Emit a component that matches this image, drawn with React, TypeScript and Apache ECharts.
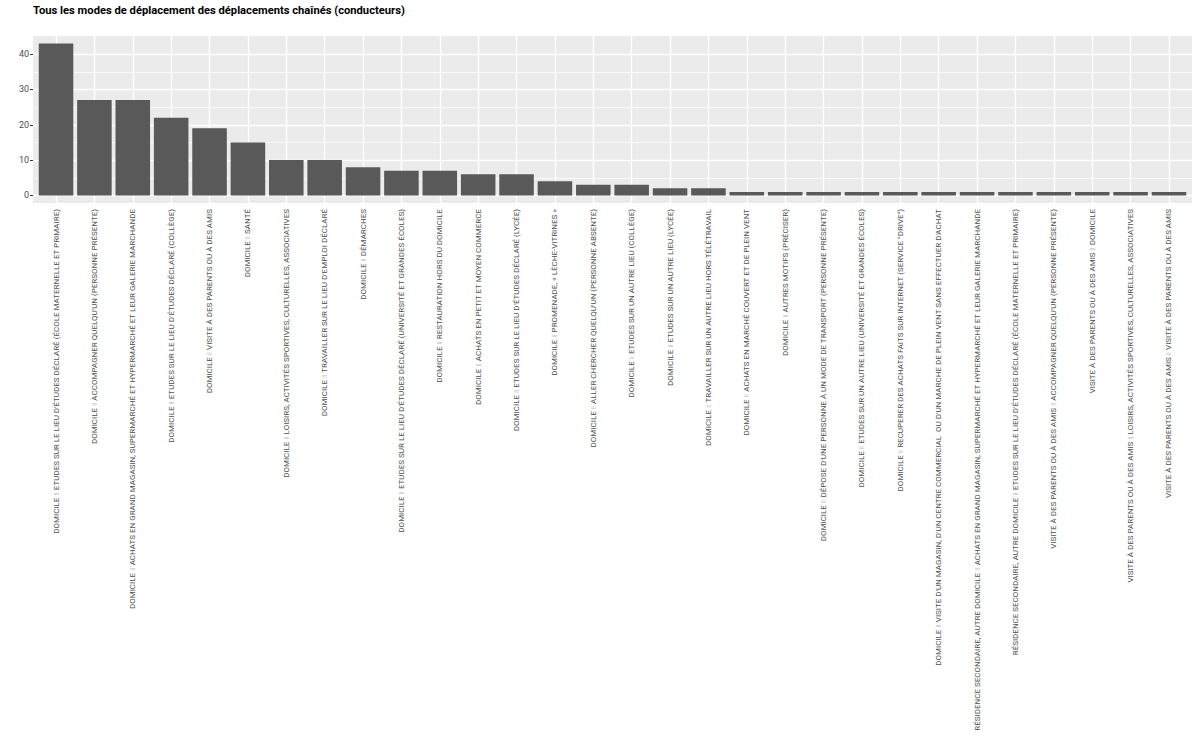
import React, { useEffect, useRef } from "react";
import * as echarts from "echarts";

const TITLE = "Tous les modes de déplacement des déplacements chaînés (conducteurs)";
const SEP = "‖";

const categories = [
  "DOMICILE ‖ ETUDES SUR LE LIEU D'ÉTUDES DÉCLARÉ (ÉCOLE MATERNELLE ET PRIMAIRE)",
  "DOMICILE ‖ ACCOMPAGNER QUELQU'UN (PERSONNE PRÉSENTE)",
  "DOMICILE ‖ ACHATS EN GRAND MAGASIN, SUPERMARCHÉ ET HYPERMARCHÉ ET LEUR GALERIE MARCHANDE",
  "DOMICILE ‖ ETUDES SUR LE LIEU D'ÉTUDES DÉCLARÉ (COLLÈGE)",
  "DOMICILE ‖ VISITE À DES PARENTS OU À DES AMIS",
  "DOMICILE ‖ SANTÉ",
  "DOMICILE ‖ LOISIRS, ACTIVITÉS SPORTIVES, CULTURELLES, ASSOCIATIVES",
  "DOMICILE ‖ TRAVAILLER SUR LE LIEU D'EMPLOI DÉCLARÉ",
  "DOMICILE ‖ DÉMARCHES",
  "DOMICILE ‖ ETUDES SUR LE LIEU D'ÉTUDES DÉCLARÉ (UNIVERSITÉ ET GRANDES ÉCOLES)",
  "DOMICILE ‖ RESTAURATION HORS DU DOMICILE",
  "DOMICILE ‖ ACHATS EN PETIT ET MOYEN COMMERCE",
  "DOMICILE ‖ ETUDES SUR LE LIEU D'ÉTUDES DÉCLARÉ (LYCÉE)",
  "DOMICILE ‖ PROMENADE, « LÈCHE-VITRINES »",
  "DOMICILE ‖ ALLER CHERCHER QUELQU'UN (PERSONNE ABSENTE)",
  "DOMICILE ‖ ETUDES SUR UN AUTRE LIEU (COLLÈGE)",
  "DOMICILE ‖ ETUDES SUR UN AUTRE LIEU (LYCÉE)",
  "DOMICILE ‖ TRAVAILLER SUR UN AUTRE LIEU HORS TÉLÉTRAVAIL",
  "DOMICILE ‖ ACHATS EN MARCHÉ COUVERT ET DE PLEIN VENT",
  "DOMICILE ‖ AUTRES MOTIFS (PRÉCISER)",
  "DOMICILE ‖ DÉPOSE D'UNE PERSONNE À UN MODE DE TRANSPORT (PERSONNE PRÉSENTE)",
  "DOMICILE ‖ ETUDES SUR UN AUTRE LIEU (UNIVERSITÉ ET GRANDES ÉCOLES)",
  "DOMICILE ‖ RECUPERER DES ACHATS FAITS SUR INTERNET (SERVICE \"DRIVE\")",
  "DOMICILE ‖ VISITE D'UN MAGASIN, D'UN CENTRE COMMERCIAL  OU D'UN MARCHE DE PLEIN VENT SANS EFFECTUER D'ACHAT",
  "RÉSIDENCE SECONDAIRE, AUTRE DOMICILE ‖ ACHATS EN GRAND MAGASIN, SUPERMARCHÉ ET HYPERMARCHÉ ET LEUR GALERIE MARCHANDE",
  "RÉSIDENCE SECONDAIRE, AUTRE DOMICILE ‖ ETUDES SUR LE LIEU D'ÉTUDES DÉCLARÉ (ÉCOLE MATERNELLE ET PRIMAIRE)",
  "VISITE À DES PARENTS OU À DES AMIS ‖ ACCOMPAGNER QUELQU'UN (PERSONNE PRÉSENTE)",
  "VISITE À DES PARENTS OU À DES AMIS ‖ DOMICILE",
  "VISITE À DES PARENTS OU À DES AMIS ‖ LOISIRS, ACTIVITÉS SPORTIVES, CULTURELLES, ASSOCIATIVES",
  "VISITE À DES PARENTS OU À DES AMIS ‖ VISITE À DES PARENTS OU À DES AMIS",
];

const counts = [43, 27, 27, 22, 19, 15, 10, 10, 8, 7, 7, 6, 6, 4, 3, 3, 2, 2, 1, 1, 1, 1, 1, 1, 1, 1, 1, 1, 1, 1];

const yMajor = [0, 10, 20, 30, 40];
const yMinor = [5, 15, 25, 35];
const yMin = -2.15;
const yMax = 45.15;

const FONT = "Roboto, 'Liberation Sans', Arial, sans-serif";

export default function App() {
  const ref = useRef<HTMLDivElement>(null);

  useEffect(() => {
    document.body.style.margin = "0";
    if (!ref.current) return;
    const chart = echarts.init(ref.current, undefined, { renderer: "svg" });

    const panel = { left: 33, top: 36, width: 1159, height: 167 };
    const unit = panel.width / (categories.length - 1 + 1.2);
    const inner = {
      left: panel.left + 0.1 * unit,
      top: panel.top,
      width: unit * categories.length,
      height: panel.height,
    };

    const option: any = {
      animation: false,
      backgroundColor: "#FFFFFF",
      textStyle: { fontFamily: FONT },
      title: {
        text: TITLE,
        left: 33,
        top: 5,
        padding: 0,
        textStyle: { fontFamily: FONT, fontSize: 11.2, fontWeight: "bold", color: "#000000" },
      },
      grid: [
        { ...panel, show: true, backgroundColor: "#EBEBEB", borderWidth: 0, containLabel: false, z: 0 },
        { ...inner, show: false, containLabel: false },
      ],
      xAxis: [
        { type: "value", gridIndex: 0, min: 0, max: 1, show: false },
        {
          type: "category",
          gridIndex: 1,
          data: categories,
          boundaryGap: true,
          axisLine: { show: false },
          axisTick: { show: true, alignWithLabel: true, length: 3, interval: 0, lineStyle: { color: "#333333", width: 1 } },
          splitLine: { show: false },
          axisLabel: {
            interval: 0,
            rotate: 90,
            margin: 6,
            fontSize: 8,
            fontFamily: FONT,
            color: "#4D4D4D",
            formatter: (v: string) => v.split(SEP).join(`{sep|${SEP}}`),
            rich: {
              sep: { color: "#BDBDBD", fontSize: 8, fontFamily: FONT },
            },
          },
        },
      ],
      yAxis: [
        {
          type: "value",
          gridIndex: 0,
          min: yMin,
          max: yMax,
          axisLine: { show: false },
          splitLine: { show: false },
          axisTick: { show: true, length: 3, customValues: yMajor, lineStyle: { color: "#333333", width: 1 } },
          axisLabel: { customValues: yMajor, fontSize: 9, color: "#4D4D4D", margin: 4, fontFamily: FONT },
        },
        {
          type: "value",
          gridIndex: 1,
          min: yMin,
          max: yMax,
          show: false,
          splitLine: { show: false },
        },
      ],
      series: [
        {
          type: "line",
          xAxisIndex: 0,
          yAxisIndex: 0,
          data: [[0.5, 0]],
          showSymbol: false,
          lineStyle: { opacity: 0 },
          silent: true,
          z: 1,
          markLine: {
            z: 1,
            silent: true,
            symbol: ["none", "none"],
            label: { show: false },
            emphasis: { disabled: true },
            data: [
              ...yMinor.map((v) => ({ yAxis: v, lineStyle: { color: "#FFFFFF", width: 0.7, type: "solid" } })),
              ...yMajor.map((v) => ({ yAxis: v, lineStyle: { color: "#FFFFFF", width: 1.4, type: "solid" } })),
            ],
          },
        },
        {
          type: "line",
          xAxisIndex: 1,
          yAxisIndex: 1,
          data: categories.map(() => null),
          showSymbol: false,
          lineStyle: { opacity: 0 },
          silent: true,
          z: 1,
          markLine: {
            z: 1,
            silent: true,
            symbol: ["none", "none"],
            label: { show: false },
            emphasis: { disabled: true },
            data: categories.map((c) => ({ xAxis: c, lineStyle: { color: "#FFFFFF", width: 1.4, type: "solid" } })),
          },
        },
        {
          type: "bar",
          xAxisIndex: 1,
          yAxisIndex: 1,
          data: counts,
          barCategoryGap: "10%",
          itemStyle: { color: "#595959" },
          silent: true,
          z: 10,
        },
      ],
    };

    chart.setOption(option);
    return () => chart.dispose();
  }, []);

  return <div ref={ref} style={{ width: 1200, height: 750 }} />;
}
